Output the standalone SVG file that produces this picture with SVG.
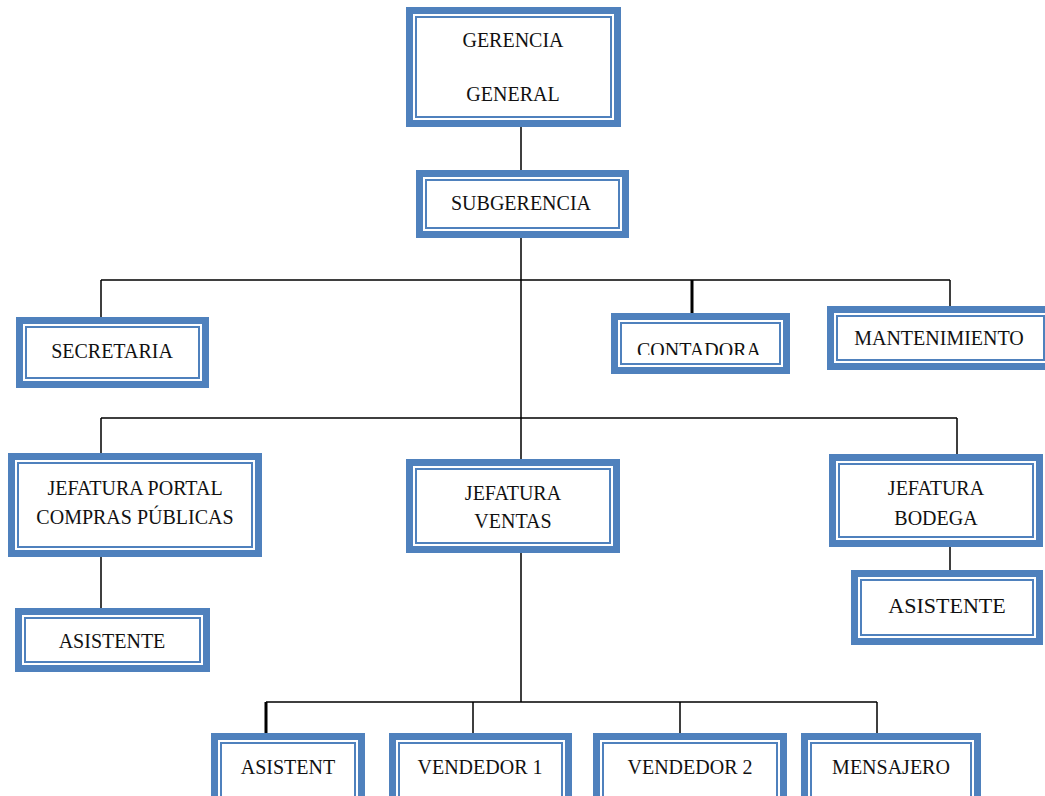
<svg xmlns="http://www.w3.org/2000/svg" width="1045" height="796" viewBox="0 0 1045 796">
<style>
.o{fill:#fff;stroke:#4F81BD;stroke-width:7}
.i{fill:#fff;stroke:#4F81BD;stroke-width:2}
.t{font-family:"Liberation Serif","Times New Roman",serif;font-size:20px;fill:#111;text-anchor:middle}
.c{stroke:#000;stroke-width:1.5;fill:none}
.k{stroke:#000;stroke-width:3;fill:none}
</style>
<defs>
<clipPath id="cc"><rect x="600" y="300" width="200" height="55"/></clipPath>
</defs>
<rect width="1045" height="796" fill="#fff"/>
<g id="connectors">
<path class="c" d="M521 127V170M521 238V459M101 280H950M101 280V317M950 280V306M101 418H957M101 418V453M957 418V454M101 557V608M950 547V570M521 553V702M266 702H877M473 702V733M680 702V733M877 702V733"/>
<path class="k" d="M692 280V313M266 702V733"/>
</g>
<g id="gerencia"><rect class="o" x="409.5" y="10.5" width="208" height="113"/><rect class="i" x="416" y="17" width="195" height="100"/><text class="t" x="513" y="47">GERENCIA</text><text class="t" x="513" y="101">GENERAL</text></g>
<g id="subgerencia"><rect class="o" x="419.5" y="173.5" width="206" height="61"/><rect class="i" x="426" y="180" width="193" height="48"/><text class="t" x="521" y="210">SUBGERENCIA</text></g>
<g id="secretaria"><rect class="o" x="19.5" y="320.5" width="186" height="64"/><rect class="i" x="26" y="327" width="173" height="51"/><text class="t" x="112" y="358">SECRETARIA</text></g>
<g id="contadora"><rect class="o" x="614.5" y="316.5" width="172" height="54"/><rect class="i" x="621" y="323" width="159" height="41"/><text class="t" x="699" y="357" clip-path="url(#cc)">CONTADORA</text></g>
<g id="mantenimiento"><rect class="o" x="830.5" y="309.5" width="220" height="57"/><rect class="i" x="837" y="316" width="207" height="44"/><text class="t" x="939" y="345">MANTENIMIENTO</text></g>
<g id="jef-portal"><rect class="o" x="11.5" y="456.5" width="247" height="97"/><rect class="i" x="18" y="463" width="234" height="84"/><text class="t" x="135" y="495">JEFATURA PORTAL</text><text class="t" x="135" y="524">COMPRAS PÚBLICAS</text></g>
<g id="jef-ventas"><rect class="o" x="409.5" y="462.5" width="207" height="87"/><rect class="i" x="416" y="469" width="194" height="74"/><text class="t" x="513" y="500">JEFATURA</text><text class="t" x="513" y="528">VENTAS</text></g>
<g id="jef-bodega"><rect class="o" x="832.5" y="457.5" width="207" height="86"/><rect class="i" x="839" y="464" width="194" height="73"/><text class="t" x="936" y="495">JEFATURA</text><text class="t" x="936" y="525">BODEGA</text></g>
<g id="asist-portal"><rect class="o" x="18.5" y="611.5" width="188" height="57"/><rect class="i" x="25" y="618" width="175" height="44"/><text class="t" x="112" y="648">ASISTENTE</text></g>
<g id="asist-bodega"><rect class="o" x="854.5" y="573.5" width="185" height="68"/><rect class="i" x="861" y="580" width="172" height="55"/><text class="t" x="947" y="613" style="font-size:22px">ASISTENTE</text></g>
<g id="asistent"><rect class="o" x="214.5" y="736.5" width="147" height="70"/><rect class="i" x="221" y="743" width="134" height="57"/><text class="t" x="288" y="774">ASISTENT</text></g>
<g id="vendedor1"><rect class="o" x="392.5" y="736.5" width="176" height="70"/><rect class="i" x="399" y="743" width="163" height="57"/><text class="t" x="480" y="774">VENDEDOR 1</text></g>
<g id="vendedor2"><rect class="o" x="596.5" y="736.5" width="187" height="70"/><rect class="i" x="603" y="743" width="174" height="57"/><text class="t" x="690" y="774">VENDEDOR 2</text></g>
<g id="mensajero"><rect class="o" x="804.5" y="736.5" width="173" height="70"/><rect class="i" x="811" y="743" width="160" height="57"/><text class="t" x="891" y="774">MENSAJERO</text></g>
</svg>
